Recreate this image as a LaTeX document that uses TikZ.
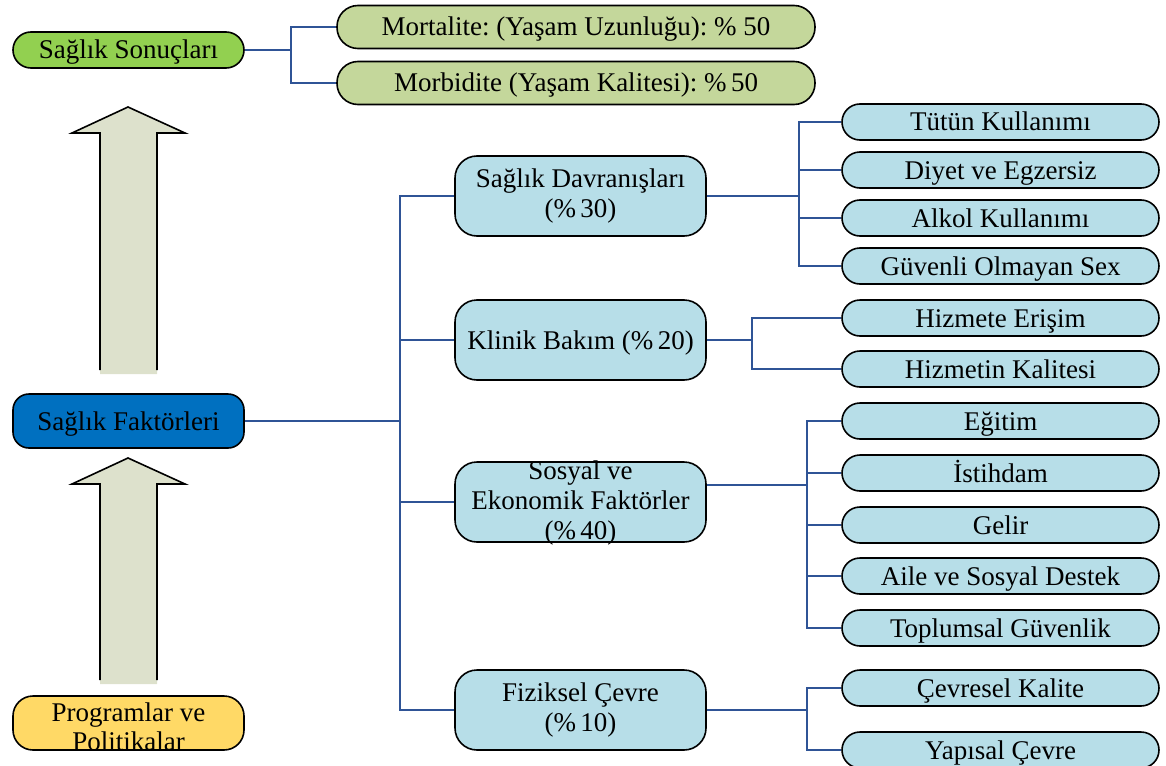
\documentclass[tikz,border=0pt]{standalone}
\usepackage{fontspec}
\setmainfont{Liberation Serif}
\frenchspacing

\definecolor{leafblue}{RGB}{183,222,232}
\definecolor{outcomegreen}{RGB}{196,215,155}
\definecolor{resultgreen}{RGB}{146,208,80}
\definecolor{factorblue}{RGB}{0,112,192}
\definecolor{policyyellow}{RGB}{255,217,102}
\definecolor{arrowfill}{RGB}{221,225,204}
\definecolor{linkblue}{RGB}{47,84,150}

\tikzset{
  box/.style={draw=black, line width=1.6pt, inner sep=0pt, align=center,
              font=\fontsize{27}{30}\selectfont},
  oneline/.style={text height=21pt, text depth=3pt},
  sidebox/.style={box, minimum width=231pt},
  outcome/.style={box, oneline, fill=outcomegreen, minimum width=478pt,
                  minimum height=43pt, rounded corners=21pt},
  factor/.style={box, fill=leafblue, minimum width=251pt,
                 minimum height=80pt, rounded corners=22pt},
  leaf/.style={box, oneline, fill=leafblue, minimum width=317pt,
               minimum height=36pt, rounded corners=18pt},
  link/.style={draw=linkblue, line width=2pt},
  upshaft/.style={draw=black, line width=1.6pt, line join=miter},
}

\begin{document}
\begin{tikzpicture}[x=1pt, y=-1pt]
\useasboundingbox (0,0) rectangle (1166,765);
\clip (0,0) rectangle (1166,765);

% left column
\node[sidebox, oneline, fill=resultgreen, minimum height=36pt, rounded corners=18pt]
  (sonuc) at (128.5,50) {Sağlık Sonuçları};
\node[sidebox, oneline, fill=factorblue, minimum height=54pt, rounded corners=16pt]
  (faktor) at (128.5,421) {Sağlık Faktörleri};
\node[sidebox, fill=policyyellow, minimum height=54pt, rounded corners=20pt]
  (program) at (128.5,723) {};
\node[font=\fontsize{27}{28.5}\selectfont, align=center, inner sep=0pt]
  at (128.5,727) {Programlar ve\\Politikalar};

% block arrows
\fill[arrowfill] (100,374) -- (100,133) -- (72,133) -- (128,107) -- (185,133)
  -- (157,133) -- (157,374) -- cycle;
\draw[upshaft] (100,370) -- (100,133) -- (72,133) -- (128,107) -- (185,133)
  -- (157,133) -- (157,370);
\fill[arrowfill] (100,684) -- (100,484) -- (72,484) -- (128,458) -- (185,484)
  -- (157,484) -- (157,684) -- cycle;
\draw[upshaft] (100,680) -- (100,484) -- (72,484) -- (128,458) -- (185,484)
  -- (157,484) -- (157,680);

% outcomes
\node[outcome] (mort) at (576,27) {Mortalite: (Yaşam Uzunluğu): \% 50};
\node[outcome] (morb) at (576,83) {Morbidite (Yaşam Kalitesi): \%\,50};

% health factors
\node[factor] (davr) at (580.5,196) {Sağlık Davranışları\\(\%\,30)};
\node[factor, oneline] (klinik) at (580.5,340) {Klinik Bakım (\%\,20)};
\node[factor] (sosyal) at (580.5,502) {};
\node[box, draw=none] at (580.5,503) {Sosyal ve\\Ekonomik Faktörler\\(\%\,40)};
\node[factor] (fizik) at (580.5,710) {Fiziksel Çevre\\(\%\,10)};

% determinants
\node[leaf] (tutun) at (1000.5,122) {Tütün Kullanımı};
\node[leaf] (diyet) at (1000.5,170) {Diyet ve Egzersiz};
\node[leaf] (alkol) at (1000.5,218) {Alkol Kullanımı};
\node[leaf] (sex) at (1000.5,266) {Güvenli Olmayan Sex};
\node[leaf] (erisim) at (1000.5,318) {Hizmete Erişim};
\node[leaf] (kalite) at (1000.5,369) {Hizmetin Kalitesi};
\node[leaf] (egitim) at (1000.5,421) {Eğitim};
\node[leaf] (istihdam) at (1000.5,473) {İstihdam};
\node[leaf] (gelir) at (1000.5,525) {Gelir};
\node[leaf] (aile) at (1000.5,576) {Aile ve Sosyal Destek};
\node[leaf] (guvenlik) at (1000.5,628) {Toplumsal Güvenlik};
\node[leaf] (cevkal) at (1000.5,688) {Çevresel Kalite};
\node[leaf] (yapisal) at (1000.5,750) {Yapısal Çevre};

% junction points of the connector trees
\coordinate (jtop) at (291,50);
\coordinate (jmain) at (400,421);
\coordinate (jdavr) at (799,196);
\coordinate (jklin) at (752,340);
\coordinate (jsos) at (807,485);
\coordinate (jfiz) at (807,710);

% connectors
\draw[link] (sonuc.east) -- (jtop);
\draw[link] (jtop) |- (mort.west);
\draw[link] (jtop) |- (morb.west);

\draw[link] (faktor.east) -- (jmain);
\draw[link] (jmain) |- (davr.west);
\draw[link] (jmain) |- (klinik.west);
\draw[link] (jmain) |- (sosyal.west);
\draw[link] (jmain) |- (fizik.west);

\draw[link] (davr.east) -- (jdavr);
\foreach \n in {tutun,diyet,alkol,sex} \draw[link] (jdavr) |- (\n.west);

\draw[link] (klinik.east) -- (jklin);
\foreach \n in {erisim,kalite} \draw[link] (jklin) |- (\n.west);

\draw[link] (sosyal.east |- jsos) -- (jsos);
\foreach \n in {egitim,istihdam,gelir,aile,guvenlik} \draw[link] (jsos) |- (\n.west);

\draw[link] (fizik.east) -- (jfiz);
\foreach \n in {cevkal,yapisal} \draw[link] (jfiz) |- (\n.west);
\end{tikzpicture}
\end{document}
